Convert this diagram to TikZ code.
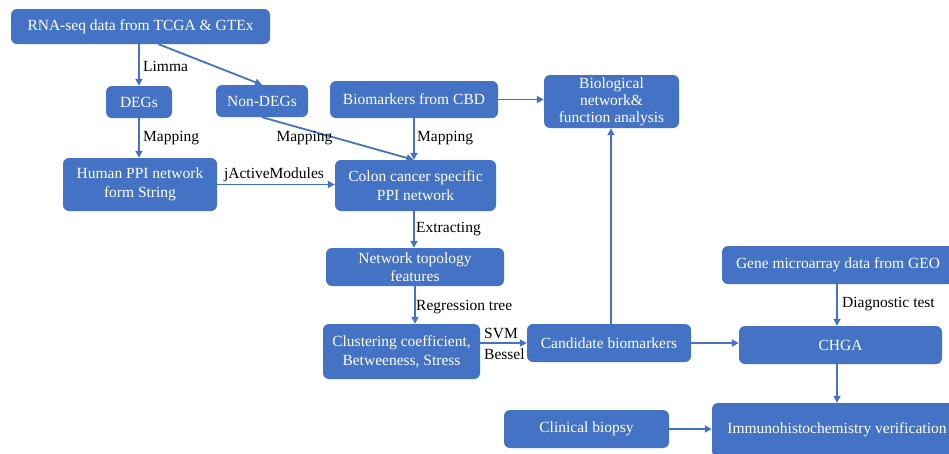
\documentclass[tikz,border=0pt]{standalone}
\usepackage{fontspec}
\setmainfont{Liberation Serif}
\usetikzlibrary{arrows.meta,positioning}
\definecolor{boxblue}{HTML}{4472C4}
\definecolor{lineblue}{HTML}{4472C4}
\tikzset{
  box/.style={rectangle, rounded corners=6pt, fill=boxblue, draw=none, text=white,
    inner sep=0pt, align=center, font=\fontsize{15.5}{18.5}\selectfont},
  arr/.style={draw=lineblue, line width=1.8pt, -{Triangle[length=7pt,width=7pt]}},
  lbl/.style={inner sep=0pt, text=black, font=\fontsize{15.5}{18.5}\selectfont},
}
\begin{document}
\begin{tikzpicture}[x=1pt,y=1pt]
\clip (0,0) rectangle (949,-453);
\fill[white] (0,0) rectangle (949,-453);
% boxes
\node[box, minimum width=259pt, minimum height=35pt] (rna) at (140.5,-26.5) {RNA-seq data from TCGA \& GTEx};
\node[box, minimum width=66pt, minimum height=32pt] (degs) at (139,-102) {DEGs};
\node[box, minimum width=92pt, minimum height=32pt] (non) at (262,-101) {Non-DEGs};
\node[box, minimum width=168pt, minimum height=37pt] (cbd) at (414,-99.5) {Biomarkers from CBD};
\node[box, minimum width=135pt, minimum height=53pt] (bio) at (611.5,-101.5) {Biological\\[-1.5pt]network\&\\[-1.5pt]function analysis};
\node[box, minimum width=154pt, minimum height=53pt] (human) at (140,-184.5) {Human PPI network\\form String};
\node[box, minimum width=161pt, minimum height=51pt] (colon) at (415.5,-185.5) {Colon cancer specific\\PPI network};
\node[box, minimum width=178pt, minimum height=38pt] (net) at (415,-267) {Network topology\\[-1pt]features};
\node[box, minimum width=157pt, minimum height=55pt] (clust) at (401.5,-351.5) {Clustering coefficient,\\Betweeness, Stress};
\node[box, minimum width=164pt, minimum height=38pt] (cand) at (609,-343) {Candidate biomarkers};
\node[box, minimum width=165pt, minimum height=38pt] (clin) at (586.5,-429) {Clinical biopsy};
\node[box, minimum width=232pt, minimum height=38pt] (gene) at (838,-265) {Gene microarray data from GEO};
\node[box, minimum width=203pt, minimum height=38pt] (chga) at (840.5,-345) {CHGA};
\node[box, minimum width=250pt, minimum height=54pt] (immuno) at (837,-430) {Immunohistochemistry verification};
% connectors
\draw[arr] (degs.north |- rna.south) -- (degs.north);
\draw[arr] ([xshift=18pt]rna.south) -- (non.north);
\draw[arr] (degs.south) -- (degs.south |- human.north);
\draw[arr] (non.south) -- ([xshift=-2pt]colon.north);
\draw[arr] (cbd.south) -- (cbd.south |- colon.north);
\draw[arr] (cbd.east) -- (cbd.east -| bio.west);
\draw[arr] (human.east) -- (human.east -| colon.west);
\draw[arr] ([xshift=-1.5pt]colon.south) -- ([xshift=-1pt]net.north);
\draw[arr] (net.south) -- (net.south |- clust.north);
\draw[arr] (cand.west -| clust.east) -- (cand.west);
\draw[arr] ([xshift=2pt]cand.north) -- ([xshift=2pt]cand.north |- bio.south);
\draw[arr] (cand.east) -- (cand.east -| chga.west);
\draw[arr] ([xshift=-1pt]gene.south) -- ([xshift=-1pt]gene.south |- chga.north);
\draw[arr] (immuno.north |- chga.south) -- (immuno.north);
\draw[arr] (clin.east) -- (clin.east -| immuno.west);
% labels
\node[lbl, anchor=west] (l1) at (143,-66) {Limma};
\node[lbl, anchor=west] (l2) at (143,-138) {Mapping};
\node[lbl] (l3) at (304.5,-138) {Mapping};
\node[lbl, anchor=west] (l4) at (417,-138) {Mapping};
\node[lbl] (l5) at (274,-175) {jActiveModules};
\node[lbl, anchor=west] (l6) at (416,-229) {Extracting};
\node[lbl, anchor=west] (l7) at (416,-307) {Regression tree};
\node[lbl, anchor=west] (l8) at (484,-333) {SVM};
\node[lbl, anchor=west] (l9) at (484,-354) {Bessel};
\node[lbl, anchor=west] (l10) at (842,-304) {Diagnostic test};
\end{tikzpicture}
\end{document}
